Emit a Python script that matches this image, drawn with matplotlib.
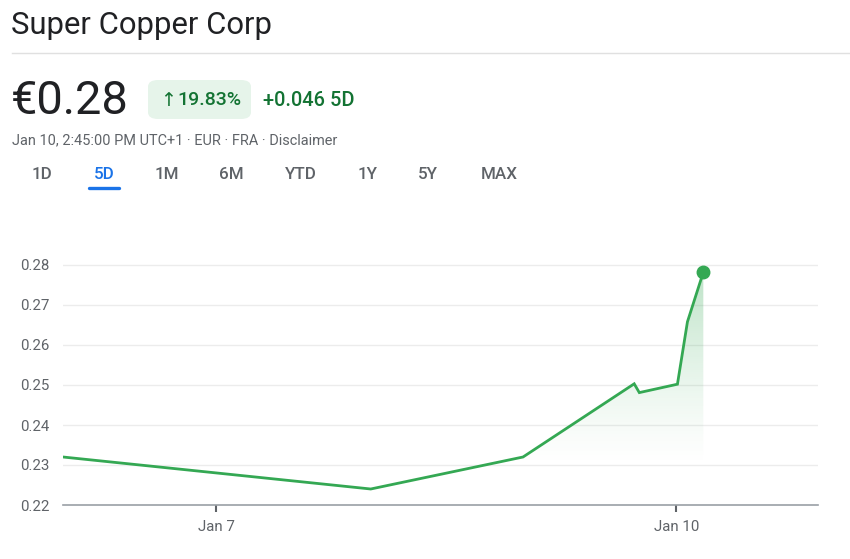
import matplotlib
matplotlib.use("Agg")
import matplotlib.pyplot as plt
import matplotlib.dates as mdates
from matplotlib.patches import FancyBboxPatch, Polygon
from datetime import datetime
import numpy as np

# ---- data ----
times = [datetime(2025, 1, 6, 0, 0), datetime(2025, 1, 8, 0, 10), datetime(2025, 1, 9, 0, 0),
         datetime(2025, 1, 9, 17, 24), datetime(2025, 1, 9, 18, 12), datetime(2025, 1, 10, 0, 10),
         datetime(2025, 1, 10, 1, 44), datetime(2025, 1, 10, 4, 13)]
prices = [0.232, 0.224, 0.232, 0.2503, 0.2481, 0.2502, 0.2658, 0.2782]
y_ticks = [0.22, 0.23, 0.24, 0.25, 0.26, 0.27, 0.28]
x_ticks = [datetime(2025, 1, 7), datetime(2025, 1, 10)]
x_tick_labels = ["Jan 7", "Jan 10"]
tabs = ["1D", "5D", "1M", "6M", "YTD", "1Y", "5Y", "MAX"]
tab_x = [42, 104, 167, 231, 301, 368, 428, 499]

W, H = 850, 559
FONT = ["Roboto", "DejaVu Sans"]
plt.rcParams["font.family"] = FONT
GREEN = "#34a853"
DGREEN = "#137333"
GREY = "#5f6368"

fig = plt.figure(figsize=(W / 100, H / 100), dpi=100)

def px(x, y):
    return x / W, 1 - y / H

def pt(p):
    return p * 0.72

# header
fig.text(*px(11, 25), "Super Copper Corp", fontsize=pt(31), color="#202124", va="center", ha="left")
fig.add_artist(plt.Line2D([12 / W, 1], [1 - 53 / H] * 2, color="#e0e0e0", lw=1))
fig.text(*px(11, 101), "€0.28", fontsize=pt(47), color="#202124", va="center", ha="left")
badge = FancyBboxPatch((148 / W, 1 - 119 / H), 103 / W, 39 / H,
                       boxstyle="round,pad=0,rounding_size=0.012", transform=fig.transFigure,
                       facecolor="#e6f4ea", edgecolor="none")
fig.add_artist(badge)
fig.text(*px(168, 100), "↑", fontsize=pt(19), color=DGREEN, va="center", ha="center",
         family="DejaVu Sans")
fig.text(*px(177, 100), "19.83%", fontsize=pt(19.5), color=DGREEN, va="center", ha="left",
         fontweight="medium")
fig.text(*px(263, 100), "+0.046 5D", fontsize=pt(20), color=DGREEN, va="center", ha="left",
         fontweight="medium")
fig.text(*px(12, 140), "Jan 10, 2:45:00 PM UTC+1 · EUR · FRA · Disclaimer", fontsize=pt(14.5),
         color=GREY, va="center", ha="left")
for lab, x in zip(tabs, tab_x):
    c = "#1a73e8" if lab == "5D" else GREY
    fig.text(*px(x, 175), lab, fontsize=pt(17), color=c, va="center", ha="center", fontweight="medium")
fig.add_artist(plt.Line2D([89 / W, 119 / W], [1 - 188 / H] * 2, color="#1a73e8", lw=2.4,
                          solid_capstyle="round"))

# axes
ax = fig.add_axes([63 / W, 1 - 505 / H, (818 - 63) / W, (505 - 255) / H])
xnum = mdates.date2num(times)
xmin = xnum[0]
xmax = mdates.date2num(datetime(2025, 1, 10, 22, 10))
ax.set_xlim(xmin, xmax)
ax.set_ylim(0.22, 0.2825)

for s in ["top", "right", "left"]:
    ax.spines[s].set_visible(False)
ax.spines["bottom"].set_color("#9aa0a6")
ax.spines["bottom"].set_linewidth(1.2)
ax.set_yticks(y_ticks)
ax.yaxis.set_major_formatter(plt.FuncFormatter(lambda v, p: f"{v:.2f}"))
ax.tick_params(axis="y", length=0, labelsize=pt(15), labelcolor=GREY, pad=10)
ax.set_xticks(mdates.date2num(x_ticks))
ax.set_xticklabels(x_tick_labels)
ax.tick_params(axis="x", length=5, width=1.5, color="#5f6368", labelsize=pt(15), labelcolor=GREY, pad=6)
ax.grid(axis="y", color="#ececec", lw=1)
ax.set_axisbelow(True)

# gradient fill
base = 0.2295
grad = np.linspace(0, 1, 256).reshape(-1, 1)
rgba = np.zeros((256, 1, 4))
rgba[..., 0] = 0x34 / 255
rgba[..., 1] = 0xa8 / 255
rgba[..., 2] = 0x53 / 255
rgba[..., 3] = grad[:, 0:1] ** 1.3 * 0.32
im = ax.imshow(rgba, aspect="auto", origin="lower",
               extent=[xnum[0], xnum[-1], base, max(prices)], zorder=1)
poly = Polygon(list(zip(xnum, prices)) + [(xnum[-1], base), (xnum[0], base)], closed=True,
               transform=ax.transData, facecolor="none", edgecolor="none")
ax.add_patch(poly)
im.set_clip_path(poly)

ax.plot(xnum, prices, color=GREEN, lw=2.0, zorder=3, solid_joinstyle="miter")
ax.plot([xnum[-1]], [prices[-1]], "o", color=GREEN, ms=9, zorder=4)

fig.savefig("out.png", dpi=100)
